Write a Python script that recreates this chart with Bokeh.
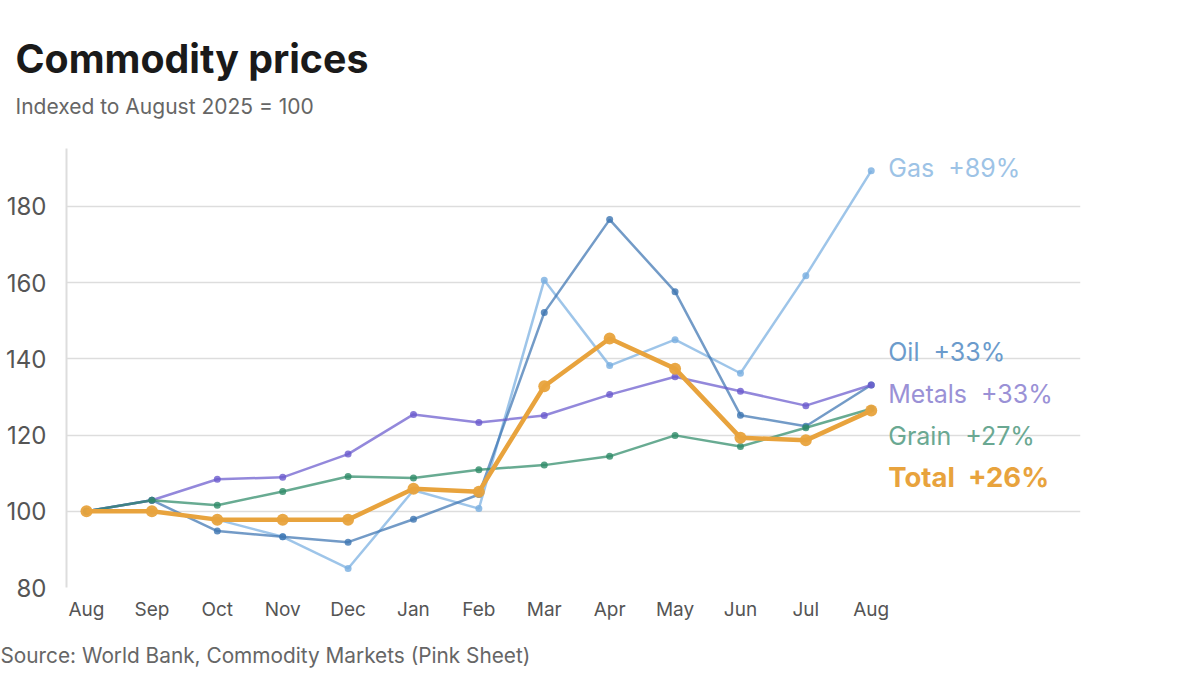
from bokeh.plotting import figure
from bokeh.models import Range1d, FixedTicker, Label
from bokeh.core.properties import value
from bokeh.embed import file_html
from bokeh.resources import INLINE

# ---------------- data ----------------
months = ["Aug", "Sep", "Oct", "Nov", "Dec", "Jan", "Feb", "Mar", "Apr", "May", "Jun", "Jul", "Aug"]
gas    = [100, 100.0, 97.8, 93.3, 85.0, 105.5, 100.7, 160.6, 138.2, 145.0, 136.2, 161.8, 189.3]
oil    = [100, 102.9, 94.8, 93.3, 91.9, 97.9, 104.4, 152.1, 176.5, 157.6, 125.2, 122.3, 133.1]
metals = [100, 102.9, 108.4, 108.9, 115.0, 125.4, 123.3, 125.1, 130.6, 135.3, 131.5, 127.7, 133.1]
grain  = [100, 102.9, 101.6, 105.2, 109.1, 108.7, 110.9, 112.1, 114.4, 119.9, 117.0, 121.9, 126.9]
total  = [100, 100.0, 97.8, 97.8, 97.8, 105.9, 105.1, 132.8, 145.3, 137.4, 119.3, 118.6, 126.4]
y_ticks = [80, 100, 120, 140, 160, 180]

title_text = "Commodity prices"
subtitle_text = "Indexed to August 2025 = 100"
source_text = "Source: World Bank, Commodity Markets (Pink Sheet)"

FONT = "Inter"

# ---------------- geometry (page pixels) ----------------
W, H = 1200, 675
FL, FR, FT, FB = 66, 1080, 148, 587
X0, X1 = -0.306, 15.2
Y0, Y1 = 80, 195.15


def cx(px):
    return X0 + (px - FL) / (FR - FL) * (X1 - X0)


def cy(py):
    return Y0 + (FB - py) / (FB - FT) * (Y1 - Y0)


p = figure(width=W, height=H, output_backend="svg", toolbar_location=None,
           title=None, x_range=Range1d(X0, X1), y_range=Range1d(Y0, Y1),
           min_border_left=FL, min_border_right=W - FR,
           min_border_top=FT, min_border_bottom=H - FB)
p.outline_line_color = None
p.border_fill_color = "white"

p.xaxis.ticker = FixedTicker(ticks=list(range(len(months))))
p.xaxis.major_label_overrides = {i: m for i, m in enumerate(months)}
p.xaxis.axis_line_color = None
p.xaxis.major_tick_line_color = None
p.xaxis.minor_tick_line_color = None
p.xaxis.major_label_text_font = FONT
p.xaxis.major_label_text_font_size = "19px"
p.xaxis.major_label_text_color = "#555555"
p.xaxis.major_label_standoff = 4

p.yaxis.ticker = FixedTicker(ticks=y_ticks)
p.yaxis.axis_line_color = "#dddddd"
p.yaxis.axis_line_width = 2
p.yaxis.major_tick_line_color = None
p.yaxis.minor_tick_line_color = None
p.yaxis.major_label_text_font = FONT
p.yaxis.major_label_text_font_size = "24px"
p.yaxis.major_label_text_color = "#555555"
p.yaxis.major_label_standoff = 14

p.xgrid.grid_line_color = None
p.ygrid.grid_line_color = "#dddddd"
p.ygrid.grid_line_width = 1.5

xs = list(range(len(months)))

series = [
    ("Gas", gas, "#78aee0", "#9dc3e6", 2.5, 7, "normal", "25px"),
    ("Oil", oil, "#3d75b2", "#6b9bcc", 2.5, 7, "normal", "25px"),
    ("Metals", metals, "#6a5acd", "#9a91d6", 2.5, 7, "normal", "25px"),
    ("Grain", grain, "#2e8b68", "#6aa892", 2.5, 7, "normal", "25px"),
    ("Total", total, "#e8a33d", "#e8a33d", 4.5, 12, "bold", "27.5px"),
]

for name, vals, col, lab_col, lw, ms, fs, fsize in series:
    is_total = name == "Total"
    p.line(xs, vals, line_color=col, line_width=lw,
           line_alpha=1.0 if is_total else 0.72)
    p.scatter(xs, vals, size=ms, fill_color=col, line_color=None,
              fill_alpha=0.95 if is_total else 0.8)

# end labels, dodged vertically so they do not overlap
label_y = {"Gas": 190.0, "Oil": 141.7, "Metals": 130.7, "Grain": 119.7, "Total": 108.9}
for name, vals, col, lab_col, lw, ms, fs, fsize in series:
    pct = vals[-1] - 100
    txt = f"{name}\u00a0 {pct:+.0f}%"
    p.add_layout(Label(x=len(months) - 1, y=label_y[name], x_offset=17,
                       text=txt, text_font=FONT, text_font_size=fsize,
                       text_font_style=fs, text_color=lab_col,
                       text_baseline="middle", text_align="left"))

# title, subtitle and source (drawn unclipped on the overlay level)
p.text(x=[cx(15)], y=[cy(58)], text=[title_text], text_font=value(FONT),
       text_font_size="39.3px", text_font_style="bold", text_color="#1a1a1a",
       text_baseline="alphabetic", text_align="left", level="overlay")
p.text(x=[cx(15)], y=[cy(106)], text=[subtitle_text], text_font=value(FONT),
       text_font_size="21px", text_color="#666666",
       text_baseline="alphabetic", text_align="left", level="overlay")
p.text(x=[cx(0)], y=[cy(655)], text=[source_text], text_font=value(FONT),
       text_font_size="20.8px", text_color="#666666",
       text_baseline="alphabetic", text_align="left", level="overlay")

open("out.html", "w").write(file_html(p, INLINE))
